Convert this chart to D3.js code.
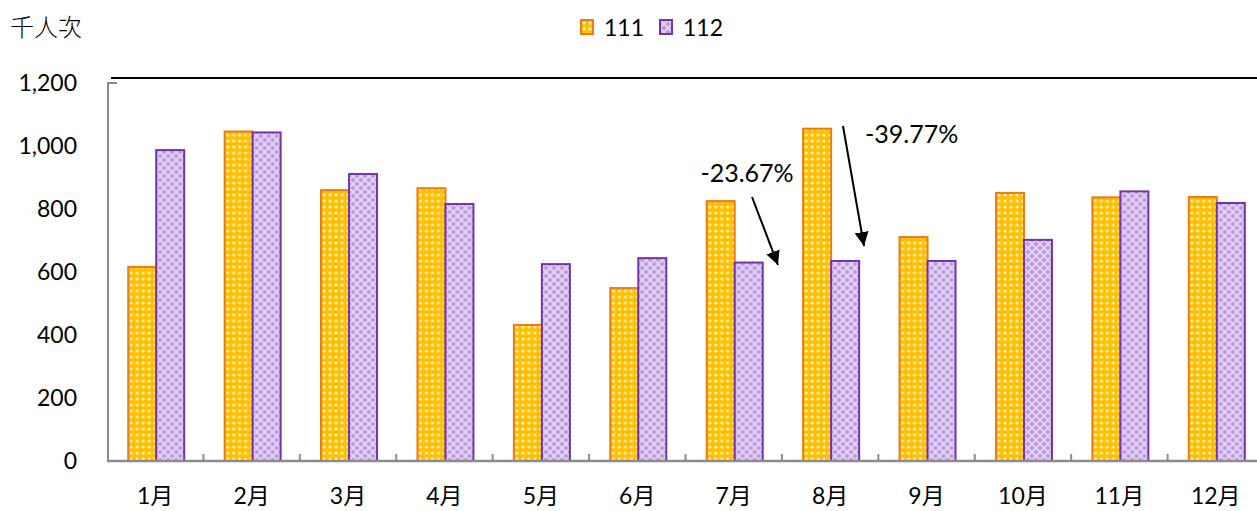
<!DOCTYPE html>
<html>
<head>
<meta charset="utf-8">
<script src="https://cdn.jsdelivr.net/npm/d3@7"></script>
<style>
  body { margin: 0; background: #fff; }
  svg { display: block; }
  text { font-family: Lato, "Noto Sans CJK TC", sans-serif; fill: #000; }
</style>
</head>
<body>
<svg id="chart" width="1257" height="511"></svg>
<script>
// data (千人次)
var months = ["1月", "2月", "3月", "4月", "5月", "6月", "7月", "8月", "9月", "10月", "11月", "12月"];
var series = ["111", "112"];
var y111 = [616, 1046, 860, 866, 432, 549, 825, 1055, 711, 851, 837, 838];
var y112 = [987, 1043, 911, 816, 625, 644, 630, 635, 635, 702, 856, 819];
var yTicks = [0, 200, 400, 600, 800, 1000, 1200];
var notes = [
    {month: "7月", text: "-23.67%"},
    {month: "8月", text: "-39.77%"}
];

var svg = d3.select("#chart");
var plotL = 107, plotR = 1264, plotT = 83, plotB = 461;

var x = d3.scaleBand().domain(months).range([plotL, plotR]).padding(0);
var pairW = 56;
var x1 = d3.scaleBand().domain(series).range([0, pairW]);
var y = d3.scaleLinear().domain([0, 1200]).range([plotB, plotT]);

var defs = svg.append("defs");

// dotted gold fill for 111
var p1 = defs.append("pattern").attr("id", "pat111")
    .attr("patternUnits", "userSpaceOnUse").attr("width", 6).attr("height", 6);
p1.append("rect").attr("width", 6).attr("height", 6).attr("fill", "#FFC000");
p1.append("circle").attr("cx", 3).attr("cy", 3).attr("r", 1.6).attr("fill", "#FFF1C4");

// lattice lavender fill for 112
var p2 = defs.append("pattern").attr("id", "pat112")
    .attr("patternUnits", "userSpaceOnUse").attr("width", 8).attr("height", 8);
p2.append("rect").attr("width", 8).attr("height", 8).attr("fill", "#BC9BE3");
p2.append("path").attr("d", "M0,0L8,8M8,0L0,8")
    .attr("stroke", "#E6D6F2").attr("stroke-width", 1.8);

defs.append("marker").attr("id", "arrow")
    .attr("viewBox", "0 0 10 10").attr("refX", 10).attr("refY", 5)
    .attr("markerWidth", 7).attr("markerHeight", 7)
    .attr("markerUnits", "strokeWidth")
    .attr("orient", "auto")
    .append("path").attr("d", "M0,0L10,5L0,10Z").attr("fill", "#000");

var fills = {"111": "url(#pat111)", "112": "url(#pat112)"};
var strokes = {"111": "#EE7A14", "112": "#7434A6"};

// axis lines
svg.append("line")
    .attr("x1", plotL + 1).attr("x2", plotL + 1)
    .attr("y1", y(1200) - 1).attr("y2", plotB)
    .attr("stroke", "#8c8c8c").attr("stroke-width", 2);
svg.append("line")
    .attr("x1", plotL + 1).attr("x2", plotL + 10)
    .attr("y1", y(1200)).attr("y2", y(1200))
    .attr("stroke", "#8c8c8c").attr("stroke-width", 2);

// top rule
svg.append("line")
    .attr("x1", plotL + 4).attr("x2", 1257)
    .attr("y1", y(1200) - 5).attr("y2", y(1200) - 5)
    .attr("stroke", "#000").attr("stroke-width", 2);

// y tick labels
svg.append("g").selectAll("text")
    .data(yTicks).join("text")
    .attr("x", 77).attr("y", function(d) { return y(d); })
    .attr("dy", "0.35em")
    .attr("text-anchor", "end")
    .attr("font-size", 23)
    .text(function(d) { return d3.format(",")(d); });

// bars
var rows = months.map(function(m, i) { return {m: m, v: {"111": y111[i], "112": y112[i]}}; });
var groups = svg.append("g").selectAll("g")
    .data(rows).join("g")
    .attr("transform", function(d) { return "translate(" + (x(d.m) + (x.bandwidth() - pairW) / 2 + 1) + ",0)"; });
groups.selectAll("rect")
    .data(function(d) { return series.map(function(s) { return {s: s, v: d.v[s]}; }); })
    .join("rect")
    .attr("x", function(d) { return x1(d.s); })
    .attr("width", x1.bandwidth())
    .attr("y", function(d) { return y(d.v); })
    .attr("height", function(d) { return plotB - y(d.v); })
    .attr("fill", function(d) { return fills[d.s]; })
    .attr("stroke", function(d) { return strokes[d.s]; })
    .attr("stroke-width", 2);

// x axis
var xAxis = svg.append("g").attr("transform", "translate(0," + plotB + ")");
xAxis.append("line")
    .attr("x1", plotL).attr("x2", 1257)
    .attr("stroke", "#8c8c8c").attr("stroke-width", 2.5);
xAxis.selectAll("line.tk")
    .data(months.slice(1)).join("line")
    .attr("class", "tk")
    .attr("x1", function(d) { return x(d); }).attr("x2", function(d) { return x(d); })
    .attr("y1", 0).attr("y2", -7)
    .attr("stroke", "#8c8c8c").attr("stroke-width", 2);
xAxis.selectAll("text")
    .data(months).join("text")
    .attr("x", function(d) { return x(d) + x.bandwidth() / 2; })
    .attr("y", 43)
    .attr("text-anchor", "middle")
    .attr("font-size", 23)
    .text(function(d) { return d; });

// unit label
svg.append("text")
    .attr("x", 10).attr("y", 36)
    .attr("font-size", 24)
    .style("font-family", "'Noto Sans CJK TC', sans-serif")
    .style("font-weight", 300)
    .text("千人次");

// legend
var leg = svg.append("g").attr("transform", "translate(581,20)");
var li = leg.selectAll("g").data(series).join("g")
    .attr("transform", function(d, i) { return "translate(" + (i * 79) + ",0)"; });
li.append("rect")
    .attr("width", 12).attr("height", 14)
    .attr("fill", function(d) { return fills[d]; })
    .attr("stroke", function(d) { return strokes[d]; })
    .attr("stroke-width", 2);
li.append("text")
    .attr("x", 23).attr("y", 8).attr("dy", "0.36em")
    .attr("font-size", 23)
    .text(function(d) { return d; });

// annotations: percentage drop with arrows
var ann = [
    {n: notes[0], tx: 747, ty: 182, ax1: 752, ay1: 197, ax2: 778, ay2: 265, anchor: "middle"},
    {n: notes[1], tx: 865, ty: 143, ax1: 843, ay1: 126, ax2: 864, ay2: 246, anchor: "start"}
];
ann.forEach(function(a) {
    svg.append("text")
        .attr("x", a.tx).attr("y", a.ty)
        .attr("text-anchor", a.anchor)
        .attr("font-size", 25)
        .text(a.n.text);
    svg.append("line")
        .attr("x1", a.ax1).attr("y1", a.ay1)
        .attr("x2", a.ax2).attr("y2", a.ay2)
        .attr("stroke", "#000").attr("stroke-width", 2)
        .attr("marker-end", "url(#arrow)");
});
</script>
</body>
</html>
